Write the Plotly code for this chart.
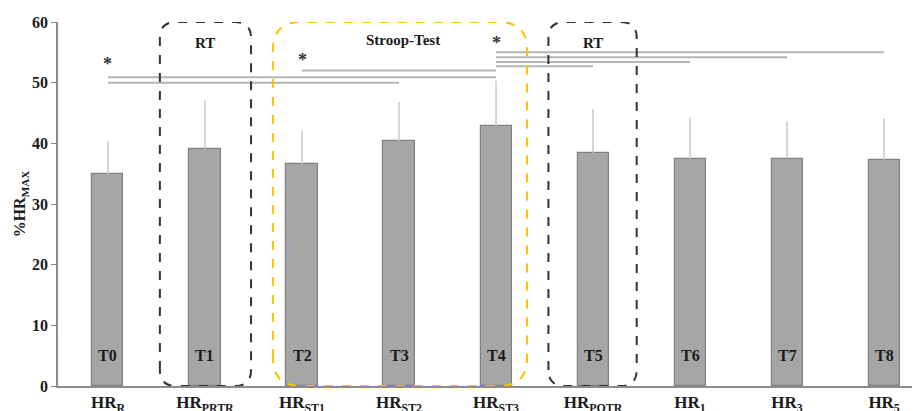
import plotly.graph_objects as go

categories = ["HR<sub>R</sub>", "HR<sub>PRTR</sub>", "HR<sub>ST1</sub>", "HR<sub>ST2</sub>",
              "HR<sub>ST3</sub>", "HR<sub>POTR</sub>", "HR<sub>1</sub>", "HR<sub>3</sub>", "HR<sub>5</sub>"]
time_labels = ["T0", "T1", "T2", "T3", "T4", "T5", "T6", "T7", "T8"]
means = [34.9, 39.0, 36.6, 40.4, 42.8, 38.4, 37.4, 37.5, 37.2]
sds = [5.5, 8.1, 5.4, 6.4, 7.5, 7.2, 6.9, 6.1, 6.9]
y_ticks = [0, 10, 20, 30, 40, 50, 60]

# significance brackets: (start index, end index, height)
sig_starts = [0, 0, 2, 4, 4, 4, 4]
sig_ends = [3, 4, 4, 5, 6, 7, 8]
sig_levels = [50.0, 50.9, 52.0, 52.7, 53.4, 54.2, 55.0]
star_pos = [0, 2, 4]
star_levels = [53.0, 53.7, 56.5]

FONT = "Liberation Serif"
xs = list(range(len(categories)))

fig = go.Figure()
fig.add_trace(go.Bar(
    x=xs, y=means, width=0.32,
    marker=dict(color="#a6a6a6", line=dict(color="#808080", width=1.2)),
    error_y=dict(type="data", array=sds, arrayminus=[0] * len(sds),
                 color="#c8c8c8", thickness=1.5, width=0),
    showlegend=False,
))

for s, e, lv in zip(sig_starts, sig_ends, sig_levels):
    fig.add_trace(go.Scatter(x=[s, e], y=[lv, lv], mode="lines",
                             line=dict(color="#b5b5b5", width=2),
                             showlegend=False, hoverinfo="skip"))

annotations = []
for p, lv in zip(star_pos, star_levels):
    annotations.append(dict(x=p, y=lv, text="<b>*</b>", showarrow=False, xref="x", yref="y",
                            font=dict(family=FONT, size=18, color="#333333")))
for i, t in enumerate(time_labels):
    annotations.append(dict(x=i, y=5.1, text="<b>%s</b>" % t, showarrow=False, xref="x", yref="y",
                            font=dict(family=FONT, size=16, color="#1a1a1a")))
annotations.append(dict(x=1, y=56.5, text="<b>RT</b>", showarrow=False, xref="x", yref="y",
                        font=dict(family=FONT, size=15, color="#1a1a1a")))
annotations.append(dict(x=5, y=56.5, text="<b>RT</b>", showarrow=False, xref="x", yref="y",
                        font=dict(family=FONT, size=15, color="#1a1a1a")))
annotations.append(dict(x=3.04, y=57.0, text="<b>Stroop-Test</b>", showarrow=False, xref="x", yref="y",
                        font=dict(family=FONT, size=15, color="#1a1a1a")))


def rounded_box(x0, x1, y0, y1, rpx):
    rx = rpx / 97.0
    ry = rpx / 6.07
    return (f"M {x0},{y0 + ry} L {x0},{y1 - ry} Q {x0},{y1} {x0 + rx},{y1} "
            f"L {x1 - rx},{y1} Q {x1},{y1} {x1},{y1 - ry} L {x1},{y0 + ry} "
            f"Q {x1},{y0} {x1 - rx},{y0} L {x0 + rx},{y0} Q {x0},{y0} {x0},{y0 + ry} Z")


shapes = [
    dict(type="path", xref="x", yref="y", path=rounded_box(0.535, 1.475, 0.0, 60.0, 16),
         line=dict(color="#333333", width=2, dash="dash")),
    dict(type="path", xref="x", yref="y", path=rounded_box(1.70, 4.32, 0.0, 60.0, 28),
         line=dict(color="#ffc000", width=2, dash="dash")),
    dict(type="path", xref="x", yref="y", path=rounded_box(4.54, 5.45, 0.0, 60.0, 16),
         line=dict(color="#333333", width=2, dash="dash")),
]

fig.update_layout(
    width=912, height=403,
    margin=dict(l=50, r=0, t=14, b=25),
    plot_bgcolor="white", paper_bgcolor="white",
    shapes=shapes, annotations=annotations,
    bargap=0,
    xaxis=dict(range=[-0.515, 8.37], tickmode="array", tickvals=xs,
               ticktext=["<b>%s</b>" % c for c in categories],
               showline=True, linecolor="#8c8c8c", linewidth=2, ticks="",
               showgrid=False, zeroline=False, automargin=False,
               tickfont=dict(family=FONT, size=17, color="#1a1a1a")),
    yaxis=dict(range=[0, 60], tickmode="array", tickvals=y_ticks,
               ticktext=["<b>%d</b>" % v for v in y_ticks],
               showline=True, linecolor="#8c8c8c", linewidth=1.5,
               ticks="outside", ticklen=5, tickcolor="#8c8c8c",
               showgrid=False, zeroline=False, automargin=False,
               tickfont=dict(family=FONT, size=16, color="#1a1a1a")),
)
fig.update_yaxes(title=dict(text="<b>%HR<sub>MAX</sub></b>", standoff=2,
                            font=dict(family=FONT, size=16, color="#1a1a1a")))

fig.write_html("out.html")
